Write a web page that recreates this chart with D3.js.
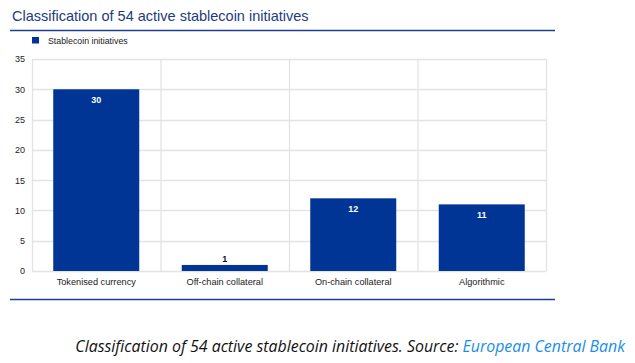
<!DOCTYPE html>
<html><head><meta charset="utf-8">
<script src="https://cdn.jsdelivr.net/npm/d3@7"></script>
<style>body{margin:0;background:#fff}svg{display:block}</style>
</head><body>
<svg id="c" width="635" height="363"></svg>
<script>
const categories = ["Tokenised currency", "Off-chain collateral", "On-chain collateral", "Algorithmic"];
const values = [30, 1, 12, 11];
const yTicks = [0, 5, 10, 15, 20, 25, 30, 35];
const seriesName = "Stablecoin initiatives";
const titleText = "Classification of 54 active stablecoin initiatives";
const captionText = "Classification of 54 active stablecoin initiatives. Source: ";
const sourceText = "European Central Bank";

const svg = d3.select("#c");
const m = {left: 32, right: 546, top: 59, bottom: 271};
const x = d3.scaleBand().domain(categories).range([m.left, m.right]).paddingInner(0).paddingOuter(0);
const y = d3.scaleLinear().domain([0, 35]).range([m.bottom, m.top]);
const navy = "#003595";
const ff = "Liberation Sans, Arial, sans-serif";

svg.append("text").attr("x", 12).attr("y", 21).attr("font-family", ff)
  .attr("font-size", 14.5).attr("fill", "#1d3b7e").text(titleText);
svg.append("line").attr("x1", 10).attr("x2", 555).attr("y1", 30.5).attr("y2", 30.5).attr("stroke", "#1e3f8f").attr("stroke-width", 1.4);

svg.append("rect").attr("x", 32).attr("y", 37).attr("width", 7).attr("height", 6.5).attr("fill", navy);
svg.append("text").attr("x", 48).attr("y", 43.5).attr("font-family", ff)
  .attr("font-size", 8.8).attr("fill", "#222").text(seriesName);

// gridlines
svg.append("g").selectAll("line").data(yTicks).join("line")
  .attr("x1", m.left).attr("x2", m.right).attr("y1", d => Math.round(y(d)) + 0.5).attr("y2", d => Math.round(y(d)) + 0.5)
  .attr("stroke", "#e3e3e3").attr("stroke-width", 1.3);
// vertical separators
const seps = categories.map(c => x(c)).concat([m.right]);
svg.append("g").selectAll("line").data(seps).join("line")
  .attr("x1", d => d + 0.5).attr("x2", d => d + 0.5).attr("y1", m.top).attr("y2", m.bottom)
  .attr("stroke", "#e3e3e3").attr("stroke-width", 1.3);

// y axis labels
const yAxis = d3.axisLeft(y).tickValues(yTicks).tickSize(0).tickPadding(0);
const gy = svg.append("g").attr("transform", `translate(${m.left - 7},0)`).call(yAxis);
gy.select(".domain").remove();
gy.selectAll("text").attr("font-family", ff).attr("font-size", 9).attr("fill", "#222");

// x axis labels
const xAxis = d3.axisBottom(x).tickSize(0).tickPadding(0);
const gx = svg.append("g").attr("transform", `translate(0,${m.bottom + 7})`).call(xAxis);
gx.select(".domain").remove();
gx.selectAll("text").attr("font-family", ff).attr("font-size", 9.2).attr("fill", "#222");

// bars
const bw = 86;
const data = categories.map((c, i) => ({c, v: values[i]}));
svg.append("g").selectAll("rect").data(data).join("rect")
  .attr("x", d => x(d.c) + x.bandwidth() / 2 - bw / 2).attr("width", bw)
  .attr("y", d => y(d.v)).attr("height", d => y(0) - y(d.v)).attr("fill", navy);

// labels
svg.append("g").selectAll("text").data(data).join("text")
  .attr("x", d => x(d.c) + x.bandwidth() / 2)
  .attr("y", d => (y(0) - y(d.v) > 20) ? y(d.v) + 14 : y(d.v) - 3)
  .attr("text-anchor", "middle").attr("font-family", ff)
  .attr("font-size", 9).attr("font-weight", "bold")
  .attr("fill", d => (y(0) - y(d.v) > 20) ? "#fff" : "#111").text(d => d.v);

svg.append("line").attr("x1", 10).attr("x2", 555).attr("y1", 299.5).attr("y2", 299.5).attr("stroke", "#1e3f8f").attr("stroke-width", 1.4);

const cap = svg.append("text").attr("x", 625).attr("y", 352).attr("text-anchor", "end")
  .attr("font-family", "Open Sans, sans-serif").attr("font-style", "italic").attr("font-size", 15.9).attr("fill", "#111");
cap.append("tspan").text(captionText);
cap.append("tspan").attr("fill", "#1a8ee6").text(sourceText);
</script>
</body></html>
